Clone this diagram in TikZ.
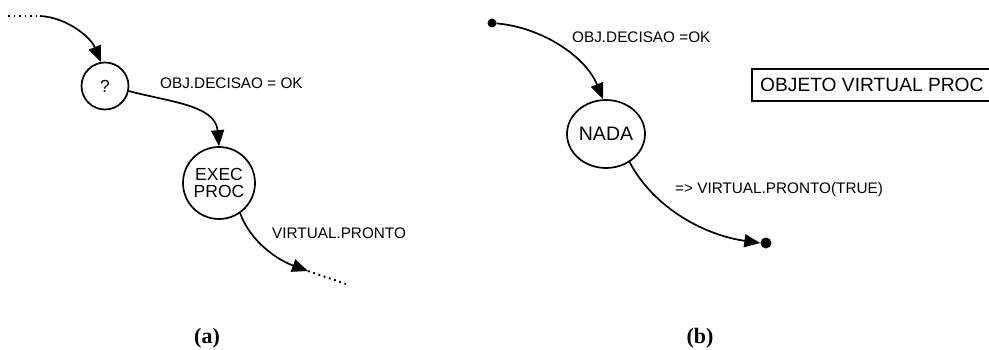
\documentclass[tikz,border=0pt]{standalone}
\usepackage{fontspec}
\setmainfont{Liberation Sans}
\newfontfamily\capfont{Liberation Serif}
\usetikzlibrary{arrows.meta,shapes.geometric}
\tikzset{
  lbl/.style={font=\fontsize{15.3}{17}\selectfont, anchor=west, inner sep=0pt},
  st/.style={draw, line width=1.7pt, circle, inner sep=0pt, align=center, font=\fontsize{17.5}{19}\selectfont},
  conn/.style={line width=1.7pt, -{Triangle[length=16pt,width=13pt]}},
  dots/.style={line width=1.9pt, dash pattern=on 1.9pt off 3.6pt},
  subcap/.style={font=\capfont\bfseries\fontsize{22}{24}\selectfont},
  blob/.style={circle, fill, inner sep=0pt, minimum size=9pt}
}
\begin{document}
\begin{tikzpicture}[x=1pt,y=-1pt]
\useasboundingbox (0,0) rectangle (989,350);
% (a)
\coordinate (d0) at (8,16);
\coordinate (d1) at (40,16);
\node[st, minimum size=47pt] (q) at (105,86) {?};
\node[st, minimum size=72pt] (exec) at (219,183) {EXEC\\[-2pt]PROC};
\coordinate (e1) at (308,271);
\coordinate (e2) at (346,284);
\draw[dots] (d0) -- (d1);
\draw[conn] (d1) to[out=-3,in=112,looseness=0.9] (q.100);
\draw[conn] (q.-12) to[out=-15,in=95,looseness=1] (exec.north);
\draw[conn] (exec.-55) to[out=-70,in=160,looseness=0.9] (e1);
\draw[dots] (e1) -- (e2);
\node[lbl] (la1) at (160,83) {OBJ.DECISAO = OK};
\node[lbl] (la2) at (272,233) {VIRTUAL.PRONTO};
\node[subcap] (ca) at (207,338) {(a)};
% (b)
\node[blob] (b0) at (492,23) {};
\node[st, ellipse, minimum width=78pt, minimum height=68pt, font=\fontsize{19.5}{21}\selectfont] (nada) at (606,134) {NADA};
\node[blob, minimum size=11pt] (b1) at (766,243) {};
\draw[conn] (b0) to[out=-5,in=112,looseness=0.9] (nada.95);
\draw[conn] (nada.-50) to[out=-62,in=172,looseness=0.9] (b1.west);
\node[lbl] (lb1) at (572,37) {OBJ.DECISAO =OK};
\node[lbl] (lb2) at (675,190) {=> VIRTUAL.PRONTO(TRUE)};
\node[subcap] (cb) at (700,338) {(b)};
% box
\node[anchor=west, inner sep=0pt, font=\fontsize{19.2}{21}\selectfont] (box) at (760,85) {OBJETO VIRTUAL PROC};
\draw[line width=1.7pt] (989,69) -- (752,69) -- (752,101) -- (989,101);
\end{tikzpicture}
\end{document}
